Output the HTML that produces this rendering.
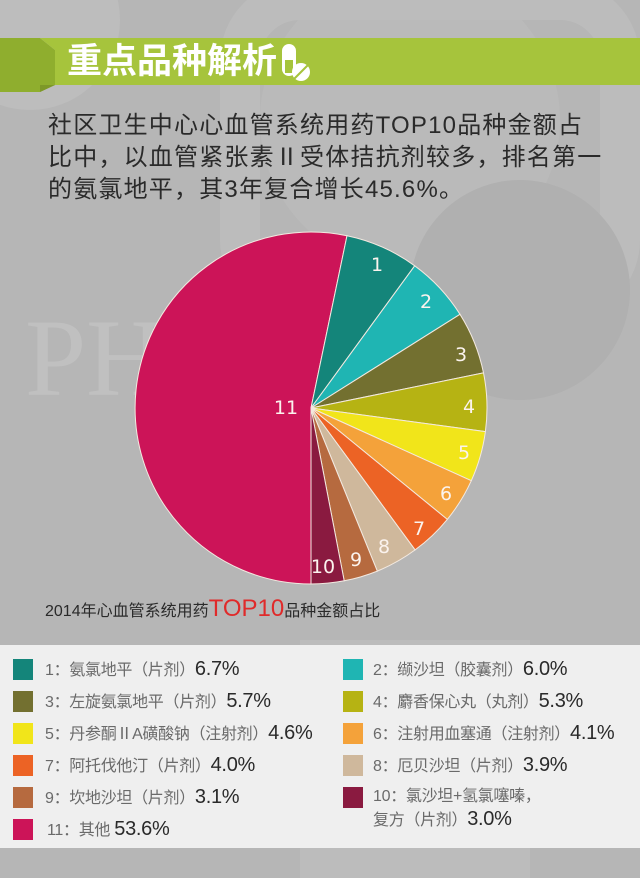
<!DOCTYPE html>
<html><head><meta charset="utf-8"><style>
body{margin:0;width:640px;height:878px;overflow:hidden;background:#b6b6b6;font-family:"Liberation Sans","Noto Sans CJK SC",sans-serif;position:relative}
.a{position:absolute;white-space:nowrap}
.sq{position:absolute;width:20px;height:21px}
.lg{position:absolute;font-size:16px;color:#6a6a6a;white-space:nowrap;line-height:22px;letter-spacing:-0.3px}
.lg b{font-weight:normal;color:#2a2a2a;font-size:20px}
</style></head><body>
<svg class="a" style="left:0;top:0" width="640" height="878">
<circle cx="410" cy="120" r="150" fill="#bababa"/>
<rect x="240" y="0" width="380" height="300" rx="60" fill="none" stroke="#bcbcbc" stroke-width="40"/>
<circle cx="520" cy="290" r="110" fill="#b0b0b0"/>
<circle cx="30" cy="20" r="90" fill="#bdbdbd"/>
<rect x="300" y="640" width="230" height="238" fill="#bcbcbc"/>
<text x="25" y="395" font-family="Liberation Serif" font-size="110" fill="#c0c0c0">PH</text>
<polygon points="0,38 40,38 55,50 55,85 40,92 0,92" fill="#8fae2e"/>
<polygon points="40,38 640,38 640,85 55,85 55,50" fill="#a6c43c"/>
<polygon points="40,85 55,85 40,92" fill="#7d9828"/>
<g id="pie"></g>
<rect x="0" y="645" width="640" height="203" fill="#efefef"/>
</svg>
<div class="a" style="left:67px;top:40px;font-size:35px;font-weight:bold;color:#fff;line-height:44px">重点品种解析</div>
<svg class="a" style="left:280px;top:42px" width="32" height="42"><rect x="2" y="2" width="14" height="32" rx="7" fill="#fff"/><rect x="5" y="18" width="8" height="13" fill="#a6c43c"/><circle cx="21" cy="30" r="9" fill="#fff"/><line x1="14" y1="37" x2="28" y2="23" stroke="#a6c43c" stroke-width="2"/></svg>
<div class="a" style="left:48px;top:110px;font-size:24px;line-height:32px;color:#2a2a2a;letter-spacing:1.2px">社区卫生中心心血管系统用药TOP10品种金额占<br>比中，以血管紧张素Ⅱ受体拮抗剂较多，排名第一<br>的氨氯地平，其3年复合增长45.6%。</div>
<div class="a" style="left:45px;top:595px;font-size:16px;color:#2a2a2a;line-height:28px">2014年心血管系统用药<span style="color:#e02a2a;font-size:24px">TOP10</span>品种金额占比</div>

<div class="sq" style="left:13px;top:659px;background:#14857a"></div><div class="lg" style="left:45px;top:658px">1：氨氯地平（片剂）<b>6.7%</b></div>
<div class="sq" style="left:343px;top:659px;background:#1fb5b3"></div><div class="lg" style="left:373px;top:658px">2：缬沙坦（胶囊剂）<b>6.0%</b></div>
<div class="sq" style="left:13px;top:691px;background:#737030"></div><div class="lg" style="left:45px;top:690px">3：左旋氨氯地平（片剂）<b>5.7%</b></div>
<div class="sq" style="left:343px;top:691px;background:#b6b313"></div><div class="lg" style="left:373px;top:690px">4：麝香保心丸（丸剂）<b>5.3%</b></div>
<div class="sq" style="left:13px;top:723px;background:#f1e51a"></div><div class="lg" style="left:45px;top:722px">5：丹参酮ⅡA磺酸钠（注射剂）<b>4.6%</b></div>
<div class="sq" style="left:343px;top:723px;background:#f4a23a"></div><div class="lg" style="left:373px;top:722px">6：注射用血塞通（注射剂）<b>4.1%</b></div>
<div class="sq" style="left:13px;top:755px;background:#ec6325"></div><div class="lg" style="left:45px;top:754px">7：阿托伐他汀（片剂）<b>4.0%</b></div>
<div class="sq" style="left:343px;top:755px;background:#cfb89c"></div><div class="lg" style="left:373px;top:754px">8：厄贝沙坦（片剂）<b>3.9%</b></div>
<div class="sq" style="left:13px;top:787px;background:#b66a3f"></div><div class="lg" style="left:45px;top:786px">9：坎地沙坦（片剂）<b>3.1%</b></div>
<div class="sq" style="left:343px;top:787px;background:#8a1a40"></div><div class="lg" style="left:373px;top:786px">10：氯沙坦+氢氯噻嗪，<br>复方（片剂）<b>3.0%</b></div>
<div class="sq" style="left:13px;top:819px;background:#cc1458"></div><div class="lg" style="left:47px;top:818px">11：其他 <b>53.6%</b></div>
<script>
var v=[6.7,6.0,5.7,5.3,4.6,4.1,4.0,3.9,3.1,3.0],c=["#14857a","#1fb5b3","#737030","#b6b313","#f1e51a","#f4a23a","#ec6325","#cfb89c","#b66a3f","#8a1a40"];
var cx=311,cy=408,r=176,tot=46.4,s=11.8,span=168.2,h="";
function p(a){a=a*Math.PI/180;return [cx+r*Math.sin(a),cy-r*Math.cos(a)];}
function arc(a0,a1,col){var A=p(a0),B=p(a1);return '<path d="M'+cx+','+cy+'L'+A[0].toFixed(1)+','+A[1].toFixed(1)+'A'+r+','+r+' 0 '+((a1-a0)>180?1:0)+' 1 '+B[0].toFixed(1)+','+B[1].toFixed(1)+'Z" fill="'+col+'" stroke="#f3e9e0" stroke-width="1"/>';}
h+=arc(180,360+s,"#cc1458");
var a=s;for(var i=0;i<10;i++){var d=v[i]/tot*span;h+=arc(a,a+d,c[i]);a+=d;}
var L=[[377,264,"1"],[426,301,"2"],[461,354,"3"],[469,406,"4"],[464,452,"5"],[446,493,"6"],[419,528,"7"],[384,546,"8"],[356,559,"9"],[323,566,"10"],[286,407,"11"]];
L.forEach(function(l){h+='<text x="'+l[0]+'" y="'+(l[1]+7)+'" text-anchor="middle" font-family="DejaVu Sans" font-size="19" fill="#fbf3ee">'+l[2]+'</text>';});
document.getElementById("pie").innerHTML=h;
</script>
</body></html>
